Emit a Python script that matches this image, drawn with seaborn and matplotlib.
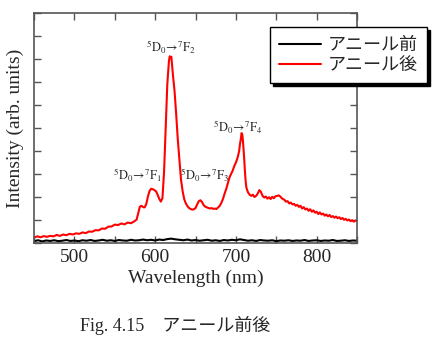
import matplotlib
matplotlib.use('Agg')
import matplotlib.pyplot as plt
from matplotlib.ticker import MultipleLocator
import seaborn as sns

# emission spectra (wavelength in nm, intensity in arb. units)
after_wl = [
    450, 454, 458, 462, 466, 470, 474, 478, 482, 486, 490, 494, 498, 502, 506, 510,
    514, 518, 522, 526, 530, 534, 538, 542, 546, 550, 554, 558, 562, 566, 570, 574,
    577, 579, 581, 583, 585, 587, 589, 591, 593, 595, 597, 599, 601, 603, 605, 607,
    609, 611, 613, 615, 617, 618, 619, 620, 621, 622, 624, 626, 628, 630, 632, 634,
    636, 638, 640, 642, 644, 646, 648, 650, 652, 654, 656, 658, 660, 662, 664, 666,
    668, 670, 672, 674, 676, 678, 680, 682, 684, 686, 688, 690, 692, 694, 696, 698,
    700, 702, 704, 705, 706, 707, 708, 709, 710, 711, 712, 713, 715, 717, 719, 721,
    723, 725, 727, 729, 731, 733, 735, 737, 739, 741, 743, 745, 747, 749, 751, 753,
    755, 757, 760, 762, 764, 766, 768, 770, 772, 774, 776, 778, 780, 782, 784, 786,
    788, 790, 792, 794, 796, 798, 800, 802, 804, 806, 808, 810, 812, 814, 816, 818,
    820, 822, 824, 826, 828, 830, 832, 834, 836, 838, 840, 842, 844, 846, 848, 850,
]
after_val = [
    0.24, 0.29, 0.25, 0.30, 0.27, 0.31, 0.29, 0.35, 0.31, 0.37, 0.34, 0.40, 0.37, 0.42, 0.40, 0.46,
    0.43, 0.50, 0.49, 0.56, 0.55, 0.63, 0.62, 0.71, 0.72, 0.80, 0.78, 0.85, 0.81, 0.89, 0.86, 0.94,
    1.02, 1.30, 1.58, 1.62, 1.56, 1.55, 1.70, 2.02, 2.26, 2.36, 2.34, 2.30, 2.25, 2.10, 1.92, 1.80,
    1.95, 3.10, 5.00, 6.90, 7.90, 8.12, 8.05, 8.10, 7.70, 7.30, 6.60, 5.60, 4.50, 3.60, 2.75, 2.25,
    1.90, 1.72, 1.60, 1.52, 1.48, 1.45, 1.47, 1.52, 1.68, 1.82, 1.86, 1.78, 1.65, 1.58, 1.55, 1.52,
    1.50, 1.52, 1.48, 1.50, 1.48, 1.55, 1.62, 1.75, 1.92, 2.15, 2.35, 2.60, 2.85, 3.00, 3.15, 3.35,
    3.50, 3.70, 4.00, 4.30, 4.50, 4.78, 4.70, 4.30, 3.80, 3.20, 2.70, 2.40, 2.20, 2.10, 2.05, 2.10,
    2.00, 2.05, 2.15, 2.30, 2.22, 2.05, 1.98, 2.02, 1.93, 1.99, 1.91, 2.01, 1.95, 2.03, 2.05, 2.07,
    2.02, 1.94, 1.88, 1.80, 1.82, 1.72, 1.76, 1.68, 1.70, 1.62, 1.66, 1.57, 1.62, 1.50, 1.56, 1.46,
    1.50, 1.40, 1.47, 1.36, 1.42, 1.32, 1.36, 1.26, 1.33, 1.24, 1.28, 1.19, 1.24, 1.16, 1.22, 1.13,
    1.17, 1.10, 1.15, 1.08, 1.12, 1.04, 1.09, 1.01, 1.05, 0.98, 1.02, 0.95, 0.99, 0.93, 0.98, 0.96,
]
before_wl = list(range(450, 851, 5))
before_val = [
    0.08, 0.12, 0.07, 0.11, 0.09, 0.12, 0.08, 0.10, 0.13, 0.09, 0.11, 0.08, 0.12, 0.10, 0.13, 0.09,
    0.11, 0.14, 0.10, 0.12, 0.09, 0.13, 0.11, 0.10, 0.14, 0.11, 0.12, 0.15, 0.12, 0.14, 0.11, 0.15,
    0.13, 0.17, 0.19, 0.16, 0.14, 0.12, 0.15, 0.11, 0.13, 0.10, 0.12, 0.14, 0.10, 0.12, 0.09, 0.13,
    0.11, 0.14, 0.12, 0.16, 0.13, 0.10, 0.12, 0.09, 0.13, 0.11, 0.10, 0.12, 0.08, 0.11, 0.10, 0.12,
    0.09, 0.11, 0.10, 0.13, 0.09, 0.11, 0.12, 0.09, 0.11, 0.10, 0.13, 0.09, 0.10, 0.12, 0.09, 0.11,
    0.10,
]
series_labels = ['アニール前', 'アニール後']
peak_labels = ['2', '1', '3', '4']
peak_pos = [(620, 8.5), (578, 2.95), (661, 2.95), (702, 5.05)]

sns.set_style('ticks')
plt.rcParams['font.family'] = ['Liberation Serif', 'Noto Sans CJK JP']
plt.rcParams['mathtext.fontset'] = 'stix'

fig = plt.figure(figsize=(4.37, 3.43), dpi=100)
ax = fig.add_axes([0.078, 0.2915, 0.739, 0.6705])

sns.lineplot(x=before_wl, y=before_val, ax=ax, color='black', linewidth=1.5,
             label=series_labels[0], estimator=None)
sns.lineplot(x=after_wl, y=after_val, ax=ax, color='#ff0000', linewidth=1.5,
             label=series_labels[1], estimator=None)

ax.set_xlim(450, 850)
ax.set_ylim(0, 10)
ax.xaxis.set_major_locator(MultipleLocator(100))
ax.xaxis.set_minor_locator(MultipleLocator(50))
ax.yaxis.set_major_locator(MultipleLocator(2))
ax.yaxis.set_minor_locator(MultipleLocator(1))
ax.tick_params(which='both', direction='in', top=True, right=True, color='#555555', width=1)
ax.tick_params(which='major', length=5, labelsize=14, pad=4)
ax.tick_params(which='minor', length=5)
ax.set_yticklabels([])
for s in ax.spines.values():
    s.set_color('#555555')
    s.set_linewidth(1.2)

for n, (x, y) in zip(peak_labels, peak_pos):
    ax.text(x, y, r'$^{5}\mathrm{D}_{0}{\!\rightarrow\!}{}^{7}\mathrm{F}_{%s}$' % n,
            ha='center', va='center', fontsize=9, zorder=5)

leg = ax.legend(loc='upper right', bbox_to_anchor=(427 / 437, 1 - 27 / 343),
                bbox_transform=fig.transFigure, fancybox=False,
                shadow={'color': 'black', 'alpha': 1}, framealpha=1,
                edgecolor='black', fontsize=13, labelspacing=0.1,
                handlelength=2.3, handletextpad=0.4, borderpad=0.5,
                borderaxespad=0)
leg.get_frame().set_linewidth(1.0)
for t in leg.get_texts():
    t.set_family(['Noto Sans CJK JP'])

ax.set_xlabel('')
ax.set_ylabel('')
fig.text(195.5 / 437, 1 - 278 / 343, 'Wavelength (nm)', ha='center', va='center', fontsize=14)
fig.text(15 / 437, 1 - 128 / 343, 'Intensity (arb. units)', ha='center', va='center',
         rotation=90, fontsize=14)
fig.text(80 / 437, 1 - 325 / 343, 'Fig. 4.15\u3000アニール前後', ha='left', va='center',
         fontsize=13, family=['Liberation Serif', 'Noto Sans CJK JP'])

fig.savefig('out.png', dpi=100)
plt.close(fig)
